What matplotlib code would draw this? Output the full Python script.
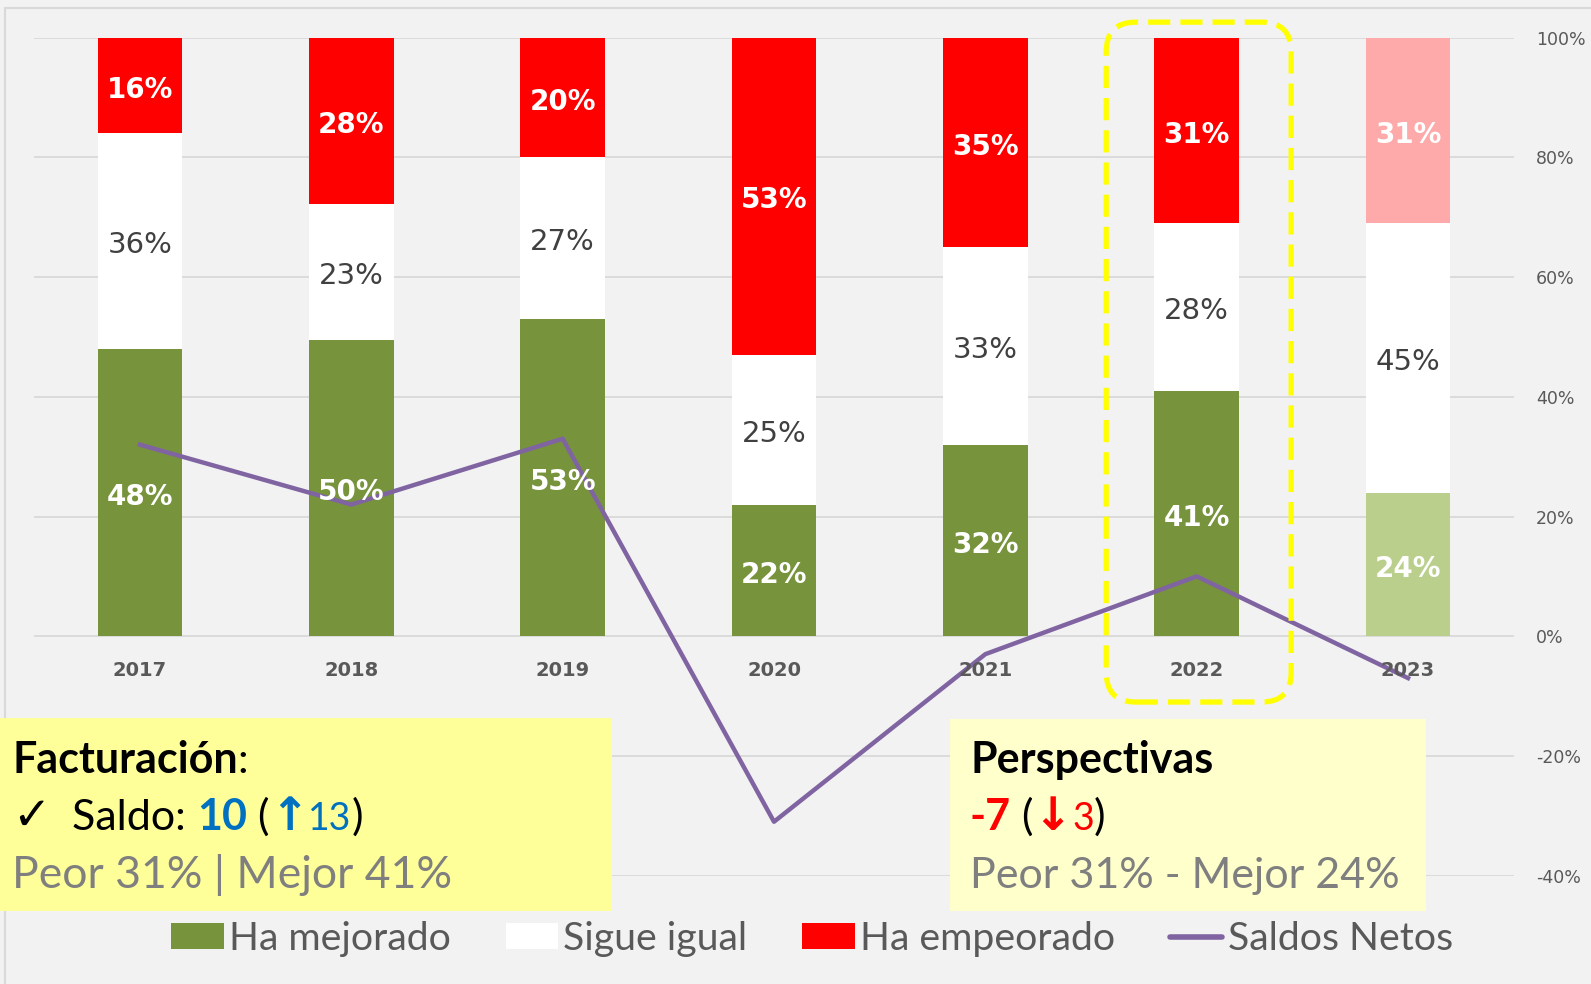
import matplotlib.pyplot as plt
import matplotlib.patches as mpatches
from matplotlib.lines import Line2D
from matplotlib.patches import FancyBboxPatch, Rectangle

years = ["2017", "2018", "2019", "2020", "2021", "2022", "2023"]
mejorado = [48, 50, 53, 22, 32, 41, 24]
igual = [36, 23, 27, 25, 33, 28, 45]
empeorado = [16, 28, 20, 53, 35, 31, 31]
saldos = [32, 22, 33, -31, -3, 10, -7]
y_ticks = [-40, -20, 0, 20, 40, 60, 80, 100]

GREEN, GREEN_L = "#77933C", "#BBCF8C"
RED, RED_L = "#FF0000", "#FFAAAA"
PURPLE = "#8064A2"
BG = "#F2F2F2"
GRID = "#D9D9D9"
TXT = "#595959"

W, H = 1591, 984
fig = plt.figure(figsize=(W / 100, H / 100), dpi=100, facecolor=BG)
ax = fig.add_axes([34.3 / W, 1 - 875.6 / H, 1479.4 / W, 837.9 / H])
ax.set_facecolor(BG)

# frame of the original chart area (only top/left visible)
fig.add_artist(Rectangle((5 / W, -0.1), 1.2, 1.1 - 8 / H, transform=fig.transFigure,
                         fill=False, edgecolor=GRID, lw=1.5))

x = list(range(len(years)))
tot = [a + b + c for a, b, c in zip(mejorado, igual, empeorado)]
g = [a / t * 100 for a, t in zip(mejorado, tot)]
w = [b / t * 100 for b, t in zip(igual, tot)]
r = [c / t * 100 for c, t in zip(empeorado, tot)]
gw = [a + b for a, b in zip(g, w)]

gcol = [GREEN] * 6 + [GREEN_L]
rcol = [RED] * 6 + [RED_L]
bw = 0.40
ax.bar(x, g, bw, color=gcol, zorder=2)
ax.bar(x, w, bw, bottom=g, color="white", zorder=2)
ax.bar(x, r, bw, bottom=gw, color=rcol, zorder=2)
ax.plot(x, saldos, color=PURPLE, lw=3.2, solid_joinstyle="round", zorder=3)


def seg_label(i, y, s, **kw):
    ax.annotate(s, (i, y), xytext=(0, -3), textcoords="offset points",
                ha="center", va="center", zorder=5, **kw)


for i in x:
    seg_label(i, g[i] / 2, f"{mejorado[i]}%", color="white", fontsize=20, fontweight="bold")
    seg_label(i, g[i] + w[i] / 2, f"{igual[i]}%", color="#404040", fontsize=21)
    seg_label(i, gw[i] + r[i] / 2, f"{empeorado[i]}%", color="white", fontsize=20,
              fontweight="bold")
    ax.annotate(years[i], (i, 0), xytext=(0, -24.5), textcoords="offset points",
                ha="center", va="center", color=TXT, fontsize=14,
                fontweight="bold", zorder=5)

ax.set_xlim(-0.5, 6.5)
ax.set_ylim(-40, 100)
ax.set_yticks(y_ticks)
ax.set_yticklabels([f"{v}%" for v in y_ticks])
ax.yaxis.tick_right()
ax.tick_params(axis="y", length=0, pad=16, labelsize=12.5, labelcolor=TXT)
ax.set_xticks([])
ax.grid(axis="y", color=GRID, lw=1.3)
ax.set_axisbelow(True)
for s in ax.spines.values():
    s.set_visible(False)

# highlight around 2022
hl = FancyBboxPatch((4.572, -11), 0.875, 113.6,
                    boxstyle="round,pad=0,rounding_size=0.14",
                    mutation_aspect=35.3, fill=False, edgecolor="#FFFF00",
                    lw=3.8, linestyle=(0, (4.2, 1.9)), clip_on=False, zorder=6)
ax.add_patch(hl)

# text boxes
fig.add_artist(Rectangle((0, 1 - 911 / H), 612 / W, 193 / H, transform=fig.transFigure,
                         facecolor="#FFFF99", edgecolor="none", zorder=7))
fig.add_artist(Rectangle((950 / W, 1 - 911 / H), 476 / W, 192 / H, transform=fig.transFigure,
                         facecolor="#FFFFCC", edgecolor="none", zorder=7))

renderer = fig.canvas.get_renderer()
FAM = ["Lato", "DejaVu Sans"]
FS = 31


def runs(px, py, parts):
    for s, kw in parts:
        style = dict(family=FAM, fontsize=FS, color="black")
        style.update(kw)
        t = fig.text(px / W, 1 - py / H, s, va="baseline", ha="left", zorder=8, **style)
        px += t.get_window_extent(renderer).width


BLUE = "#0070C0"
GRAY = "#7F7F7F"
ARROW = dict(family=["DejaVu Sans"], fontweight="bold", fontsize=33)
runs(12, 773, [("Facturación", dict(fontweight="bold")), (":", {})])
runs(12, 830, [("✓", dict(family=["DejaVu Sans"], fontsize=33)), ("  Saldo: ", {}),
               ("10", dict(fontweight="bold", color=BLUE)), (" (", {}),
               ("↑", dict(ARROW, color=BLUE)),
               ("13", dict(color=BLUE, fontsize=27)), (")", {})])
runs(12, 888, [("Peor 31% | Mejor 41%", dict(color=GRAY, fontsize=32))])

runs(970, 773, [("Perspectivas", dict(fontweight="bold"))])
runs(970, 830, [("-7", dict(fontweight="bold", color=RED)), (" (", {}),
                ("↓", dict(ARROW, color=RED)),
                ("3", dict(color=RED, fontsize=27)), (")", {})])
runs(970, 888, [("Peor 31% - Mejor 24%", dict(color=GRAY))])

handles = [mpatches.Patch(facecolor=GREEN, label="Ha mejorado"),
           mpatches.Patch(facecolor="white", label="Sigue igual"),
           mpatches.Patch(facecolor=RED, label="Ha empeorado"),
           Line2D([], [], color=PURPLE, lw=4, solid_capstyle="round", label="Saldos Netos")]
fig.legend(handles=handles, loc="center", bbox_to_anchor=(812 / W, 1 - 939 / H), ncol=4,
           frameon=False, prop=dict(family=FAM, size=28.3), labelcolor=TXT,
           handlelength=1.34, handleheight=0.62, handletextpad=0.13, columnspacing=1.39)

fig.savefig("out.png", dpi=100, facecolor=BG)
